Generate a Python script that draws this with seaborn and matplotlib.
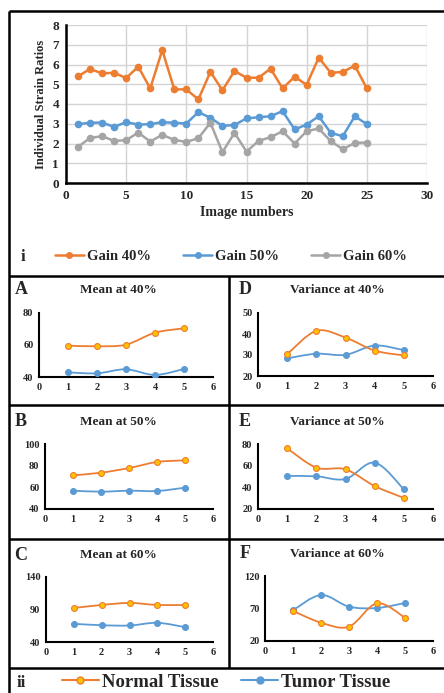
import numpy as np
import pandas as pd
import seaborn as sns
import matplotlib.pyplot as plt
from matplotlib.path import Path
from matplotlib.patches import PathPatch
from matplotlib.lines import Line2D

# top chart: individual strain ratios per image
image_numbers = list(range(1, 26))
gain_40 = [5.41, 5.77, 5.55, 5.58, 5.31, 5.89, 4.79, 6.73, 4.74, 4.74, 4.23, 5.63, 4.69,
           5.67, 5.33, 5.33, 5.79, 4.79, 5.38, 4.97, 6.35, 5.58, 5.62, 5.94, 4.79]
gain_50 = [2.98, 3.05, 3.06, 2.84, 3.08, 2.96, 2.98, 3.08, 3.05, 3.01, 3.59, 3.30, 2.89,
           2.94, 3.27, 3.33, 3.38, 3.64, 2.71, 2.96, 3.38, 2.54, 2.37, 3.38, 2.98]
gain_60 = [1.83, 2.28, 2.37, 2.13, 2.17, 2.55, 2.10, 2.44, 2.18, 2.08, 2.27, 3.05, 1.56,
           2.54, 1.59, 2.13, 2.32, 2.62, 2.00, 2.62, 2.76, 2.12, 1.71, 2.03, 2.05]
gain_labels = ['Gain 40%', 'Gain 50%', 'Gain 60%']

# bottom panels: normal vs tumor tissue
groups = [1, 2, 3, 4, 5]
mean_40_normal = [59.6, 59.2, 60.2, 67.7, 70.4]
mean_40_tumor = [42.9, 42.3, 44.8, 41.3, 45.0]
var_40_normal = [30.4, 41.5, 38.3, 32.1, 29.8]
var_40_tumor = [28.4, 30.6, 30.1, 34.5, 32.3]
mean_50_normal = [71.1, 73.5, 77.8, 83.4, 84.9]
mean_50_tumor = [56.9, 56.0, 56.9, 56.6, 59.7]
var_50_normal = [76.0, 58.2, 56.6, 41.2, 30.2]
var_50_tumor = [50.5, 50.2, 47.7, 62.8, 38.2]
mean_60_normal = [92.3, 97.0, 100.1, 97.0, 97.0]
mean_60_tumor = [68.0, 65.8, 65.4, 69.5, 62.8]
var_60_normal = [66.2, 48.2, 42.1, 78.0, 55.9]
var_60_tumor = [67.2, 90.8, 72.8, 70.8, 78.5]

ORANGE = '#ED7D31'
BLUE = '#5B9BD5'
GRAY = '#A5A5A5'
YELLOW = '#FFC000'

sns.set_theme(style='white')
plt.rcParams['font.family'] = ['Liberation Serif', 'DejaVu Serif']
plt.rcParams['font.weight'] = 'bold'

W, H = 444, 693
fig = plt.figure(figsize=(W / 100, H / 100), dpi=100)


def px_rect(x0, y_top, x1, y_bot):
    return [x0 / W, 1 - y_bot / H, (x1 - x0) / W, (y_bot - y_top) / H]


# background axes in pixel coordinates for frames and labels
bg = fig.add_axes([0, 0, 1, 1])
bg.set_xlim(0, W)
bg.set_ylim(H, 0)
bg.axis('off')
frame = dict(color='black', lw=1.8, solid_capstyle='butt')
bg.plot([9, W], [11, 11], **frame)
bg.plot([9, 9], [11, H], **frame)
for yy in [276, 405, 539, 668]:
    bg.plot([9, W], [yy, yy], **frame)
bg.plot([229, 229], [276, 668], **frame)

# top chart
ax = fig.add_axes(px_rect(66, 25, 427, 183))
ax.set_axisbelow(True)
df = pd.DataFrame({
    'image': image_numbers * 3,
    'ratio': gain_40 + gain_50 + gain_60,
    'series': [gain_labels[0]] * 25 + [gain_labels[1]] * 25 + [gain_labels[2]] * 25,
})
sns.lineplot(data=df, x='image', y='ratio', hue='series', palette=[ORANGE, BLUE, GRAY],
             marker='o', markersize=5.5, markeredgewidth=0, linewidth=1.8, ax=ax, legend=False)
ax.set_xlim(0, 30)
ax.set_ylim(0, 8)
ax.set_xticks(range(0, 31, 5))
ax.set_yticks(range(0, 9))
ax.grid(True, which='major', axis='both', color='#D4D4D4', lw=1.0)
for s in ['top', 'right']:
    ax.spines[s].set_visible(False)
for s in ['left', 'bottom']:
    ax.spines[s].set_color('black')
    ax.spines[s].set_linewidth(1.8)
ax.tick_params(length=0, labelsize=9.5, pad=5)
for lab in ax.get_xticklabels() + ax.get_yticklabels():
    lab.set_fontweight('bold')
ax.set_xlabel('Image numbers', fontsize=10, fontweight='bold', labelpad=3)
ax.set_ylabel('Individual Strain Ratios', fontsize=9, fontweight='bold', labelpad=4)

handles = [Line2D([], [], color=c, marker='o', markersize=5, markeredgewidth=0, lw=1.8)
           for c in [ORANGE, BLUE, GRAY]]
fig.legend(handles, gain_labels, loc='center', bbox_to_anchor=(231 / W, 1 - 256 / H),
           ncol=3, frameon=False, prop={'size': 10.5, 'weight': 'bold'},
           handlelength=2.0, handletextpad=0.2, columnspacing=2.2)
bg.text(23, 257, 'i', fontsize=12, fontweight='bold', ha='center', va='center')


def smooth_path(xs, ys):
    pts = np.column_stack([xs, ys]).astype(float)
    n = len(pts)
    verts = [pts[0]]
    codes = [Path.MOVETO]
    for i in range(n - 1):
        p0 = pts[max(i - 1, 0)]
        p1 = pts[i]
        p2 = pts[i + 1]
        p3 = pts[min(i + 2, n - 1)]
        c1 = p1 + (p2 - p0) / 6
        c2 = p2 - (p3 - p1) / 6
        verts += [c1, c2, p2]
        codes += [Path.CURVE4] * 3
    return Path(verts, codes)


panels = [
    ('A', 'Mean at 40%', (39, 313, 213, 377), (40, 80), [40, 60, 80],
     mean_40_normal, mean_40_tumor, 21, 118, 290),
    ('D', 'Variance at 40%', (258, 313, 433, 376), (20, 50), [20, 30, 40, 50],
     var_40_normal, var_40_tumor, 245, 337, 290),
    ('B', 'Mean at 50%', (45, 444, 213, 509), (40, 100), [40, 60, 80, 100],
     mean_50_normal, mean_50_tumor, 21, 118, 422),
    ('E', 'Variance at 50%', (258, 444, 433, 509), (20, 80), [20, 40, 60, 80],
     var_50_normal, var_50_tumor, 245, 337, 422),
    ('C', 'Mean at 60%', (46, 577, 213, 642), (40, 140), [40, 90, 140],
     mean_60_normal, mean_60_tumor, 21, 118, 555),
    ('F', 'Variance at 60%', (265, 576, 433, 641), (20, 120), [20, 70, 120],
     var_60_normal, var_60_tumor, 245, 337, 554),
]

for letter, title, rect, ylim, yticks, normal, tumor, lx, tx, ty in panels:
    a = fig.add_axes(px_rect(*rect))
    for vals, col, face in [(tumor, BLUE, BLUE), (normal, ORANGE, YELLOW)]:
        a.add_patch(PathPatch(smooth_path(groups, vals), fill=False, edgecolor=col, lw=1.3))
        sns.scatterplot(x=groups, y=vals, color=face, edgecolor=col, linewidth=0.8,
                        s=18, ax=a, zorder=3)
    a.set_xlim(0, 6)
    a.set_ylim(*ylim)
    a.set_xticks(range(0, 7))
    a.set_yticks(yticks)
    for s in ['top', 'right']:
        a.spines[s].set_visible(False)
    for s in ['left', 'bottom']:
        a.spines[s].set_color('black')
        a.spines[s].set_linewidth(1.5)
    a.tick_params(length=0, labelsize=7.5, pad=4)
    for lab in a.get_xticklabels() + a.get_yticklabels():
        lab.set_fontweight('bold')
    bg.text(lx, ty, letter, fontsize=13, fontweight='bold', ha='center', va='center')
    bg.text(tx, ty, title, fontsize=9.5, fontweight='bold', ha='center', va='center')

handles2 = [Line2D([], [], color=ORANGE, marker='o', markerfacecolor=YELLOW,
                   markeredgecolor=ORANGE, markersize=5, lw=1.5),
            Line2D([], [], color=BLUE, marker='o', markerfacecolor=BLUE,
                   markeredgecolor=BLUE, markersize=5, lw=1.5)]
fig.legend(handles2, ['Normal Tissue', 'Tumor Tissue'], loc='center',
           bbox_to_anchor=(226 / W, 1 - 682 / H), ncol=2, frameon=False,
           prop={'size': 13.5, 'weight': 'bold'}, handlelength=2.0,
           handletextpad=0.15, columnspacing=1.2)
bg.text(21, 683, 'ii', fontsize=12, fontweight='bold', ha='center', va='center')

fig.savefig('out.png', dpi=100)
